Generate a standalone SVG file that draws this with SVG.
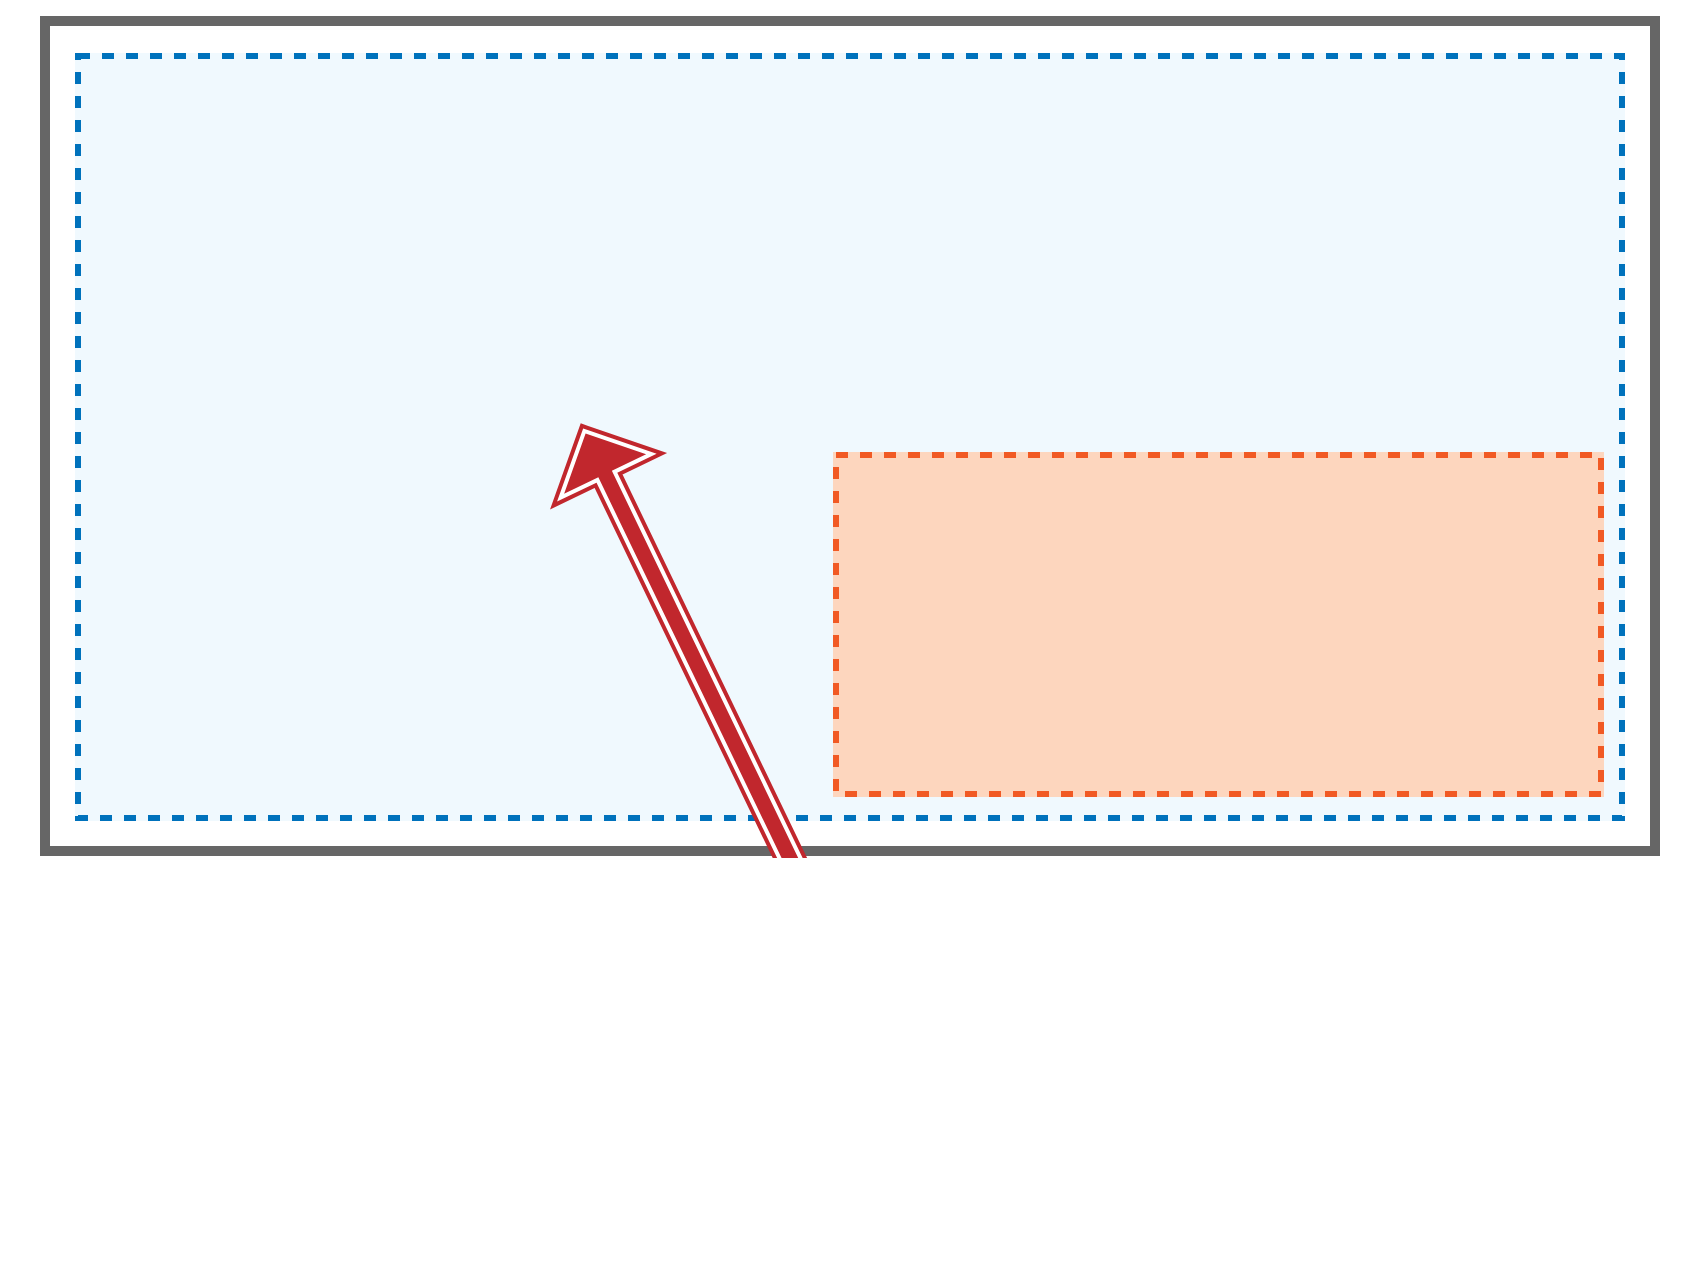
<svg xmlns="http://www.w3.org/2000/svg" xmlns:xlink="http://www.w3.org/1999/xlink" width="1700" height="1280" viewBox="0 0 1700 1280">
  <style>
    .frame { fill: #ffffff; stroke: #666666; stroke-width: 10; }
    .zoneFill { stroke: none; }
    .dashed { fill: none; stroke-width: 6; stroke-dasharray: 12 12; }
    .arrowRed { fill: #C1272D; stroke: #C1272D; stroke-width: 16; stroke-linejoin: miter; stroke-miterlimit: 10; }
    .arrowWhite { fill: #C1272D; stroke: #ffffff; stroke-width: 8; stroke-linejoin: miter; stroke-miterlimit: 10; }
    .arrowCore { fill: #C1272D; stroke: none; }
  </style>
  <defs>
    <path id="arrowShape" d="M0,11.3 L45.5,56.3 L7.5,56.3 L7.5,640 L-7.5,640 L-7.5,56.3 L-45.5,56.3 Z"/>
    <clipPath id="arrowClip" clipPathUnits="userSpaceOnUse">
      <rect x="0" y="0" width="1700" height="858"/>
    </clipPath>
  </defs>
  <rect width="1700" height="1280" fill="#ffffff"/>
  <g id="frame">
    <rect class="frame" x="45" y="21" width="1610" height="830"/>
  </g>
  <g id="outer-zone">
    <rect class="zoneFill" x="75" y="53" width="1550" height="768" fill="#F0F9FE"/>
    <rect class="dashed" x="78" y="56" width="1544" height="762" stroke="#0072BC"/>
  </g>
  <g id="inner-zone">
    <rect class="zoneFill" x="833" y="452" width="771" height="345" fill="#FDD6BE"/>
    <rect class="dashed" x="836" y="455" width="765" height="339" stroke="#F15A24"/>
  </g>
  <g id="connectors" clip-path="url(#arrowClip)">
    <g id="arrow" transform="translate(580.7,423.3) rotate(-25.7)">
      <use xlink:href="#arrowShape" class="arrowRed"/>
      <use xlink:href="#arrowShape" class="arrowWhite"/>
      <use xlink:href="#arrowShape" class="arrowCore"/>
    </g>
  </g>
</svg>
